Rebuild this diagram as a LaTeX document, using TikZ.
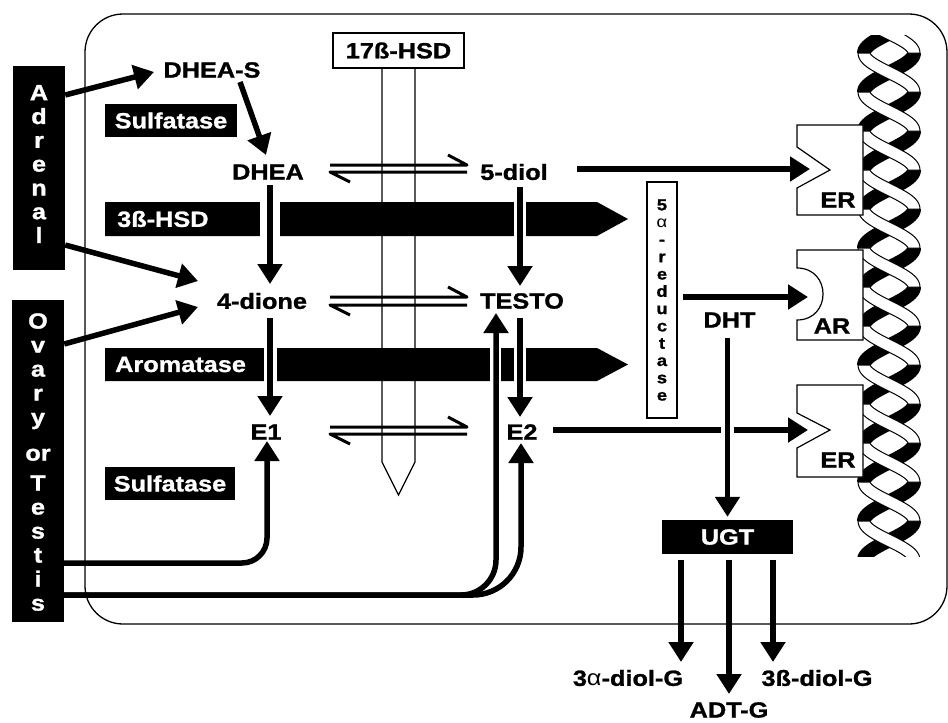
\documentclass[tikz,border=0pt]{standalone}
\usepackage{fontspec}
\setmainfont{Liberation Sans}[FakeStretch=1.15, BoldFeatures={FakeBold=1.2}]
\usetikzlibrary{arrows.meta}
\begin{document}
\begin{tikzpicture}[x=1pt,y=-1pt,
  lbl/.style={font=\fontsize{22}{24}\selectfont\bfseries, inner sep=0pt},
  blk/.style={fill=black, text=white, font=\fontsize{22}{24}\selectfont\bfseries, inner sep=0pt},
  arr/.style={line width=5.5pt, -{Triangle[length=20pt,width=24pt]}},
  harp/.style={line width=3pt, line join=round},
  gap/.style={draw=white},
  outl/.style={line width=1.2pt},
  declare function={nrm(\u)=sqrt(1+(2.04*sin(\u))^2);}]
\fill[white] (0,0) rectangle (948,723);
\useasboundingbox (0,0) rectangle (948,723);
% cell
\draw[line width=1.3pt, rounded corners=38pt] (85,14) rectangle (947,624);
% DNA helix
\begin{scope}
\clip (840,35) rectangle (930,556);
\foreach \ys in {-25,14,...,521}{
  \fill[black] plot[domain=0:180,samples=30,variable=\u] ({889+25*cos(\u)+7/nrm(\u)},{\ys+39*\u/180+7*2.04*sin(\u)/nrm(\u)})
    -- plot[domain=180:0,samples=30,variable=\u] ({889+25*cos(\u)-7/nrm(\u)},{\ys+39*\u/180-7*2.04*sin(\u)/nrm(\u)}) -- cycle;
}
\foreach \ys in {-25,14,...,521}{
  \filldraw[fill=white, draw=black, line width=1pt] plot[domain=0:180,samples=30,variable=\u] ({889-25*cos(\u)+6/nrm(\u)},{\ys+39*\u/180-6*2.04*sin(\u)/nrm(\u)})
    -- plot[domain=180:0,samples=30,variable=\u] ({889-25*cos(\u)-6/nrm(\u)},{\ys+39*\u/180+6*2.04*sin(\u)/nrm(\u)}) -- cycle;
}
\end{scope}
% receptors
\filldraw[fill=white, outl] (797,125) -- (863,125) -- (863,215) -- (797,215) -- (797,188) -- (830,170) -- (797,147) -- cycle;
\filldraw[fill=white, outl] (797,250) -- (863,250) -- (863,340) -- (797,340) -- (797,320) .. controls (831.7,320) and (831.7,268) .. (797,268) -- cycle;
\filldraw[fill=white, outl] (797,385) -- (863,385) -- (863,477) -- (797,477) -- (797,448) -- (830,430) -- (797,413) -- cycle;
\node[lbl] (er1) at (838,200) {ER};
\node[lbl] (ar) at (832,326) {AR};
\node[lbl] (er2) at (838,460) {ER};
\coordinate (er1in) at (810,169);
\coordinate (arin) at (808,297);
\coordinate (er2in) at (808,430);
% 17beta-HSD
\filldraw[fill=white, outl] (382,60) -- (382,462) -- (398.5,495) -- (415,462) -- (415,60) -- cycle;
\node[lbl, draw, fill=white, outl, minimum width=131pt, minimum height=35pt] (hsd17) at (398.5,50.5) {17ß-HSD};
% bars
\fill (105,202) -- (597,202) -- (628,219) -- (597,236) -- (105,236) -- cycle;
\node[blk, anchor=west] (hsd3) at (117,219) {3ß-HSD};
\fill (105,348) -- (597,348) -- (628,364.5) -- (597,381) -- (105,381) -- cycle;
\node[blk, anchor=west] (arom) at (115,364.5) {Aromatase};
\draw[gap, line width=20pt] (270,199) -- (270,239);
\draw[gap, line width=12pt] (520,199) -- (520,239);
\draw[gap, line width=13pt] (270,345) -- (270,384);
\draw[gap, line width=11pt] (495,345) -- (495,384);
\draw[gap, line width=12pt] (520,345) -- (520,384);
% black boxes
\node[blk, minimum width=132pt, minimum height=33pt] (sulf1) at (171,120.5) {Sulfatase};
\node[blk, minimum width=130pt, minimum height=33pt] (sulf2) at (170,483.5) {Sulfatase};
\node[blk, minimum width=131pt, minimum height=34pt] (ugt) at (727.5,537) {UGT};
\node[blk, minimum width=52pt, minimum height=204pt] (adrenal) at (39,168) {};
\node[blk, align=center, font=\fontsize{22}{23.8}\selectfont\bfseries] (adrtxt) at (39,164) {A\\d\\r\\e\\n\\a\\l};
\node[blk, minimum width=52pt, minimum height=322pt] (ovary) at (38,461) {};
\node[blk, align=center, font=\fontsize{22}{24}\selectfont\bfseries] (ovtxt) at (38,462) {O\\v\\a\\r\\y\\[12pt]or\\[6pt]T\\e\\s\\t\\i\\s};
\node[draw, outl, fill=white, minimum width=30pt, minimum height=236pt, inner sep=0pt, align=center, font=\fontsize{16}{17.3}\selectfont\bfseries] (red) at (662,300) {5\\{\mdseries α}\\-\\r\\e\\d\\u\\c\\t\\a\\s\\e};
% metabolites
\node[lbl] (dheas) at (212,70) {DHEA-S};
\node[lbl] (dhea) at (268,172) {DHEA};
\node[lbl] (diol) at (514,172) {5-diol};
\node[lbl] (dione) at (262,301) {4-dione};
\node[lbl] (testo) at (522,301) {TESTO};
\node[lbl] (e1) at (266,432) {E1};
\node[lbl] (e2) at (522,432) {E2};
\node[lbl] (dht) at (729.5,320) {DHT};
\node[lbl] (g3a) at (628,678) {3{\mdseries α}-diol-G};
\node[lbl] (g3b) at (817,678) {3ß-diol-G};
\node[lbl] (adtg) at (729,710) {ADT-G};
% arrows
\draw[arr] ([yshift=73pt]adrenal.east) -- ([xshift=-58pt,yshift=-2pt]dheas.center);
\draw[arr] ([yshift=-77pt]adrenal.east) -- ([xshift=-64pt,yshift=20pt]dione.center);
\draw[arr] ([yshift=117pt]ovary.east) -- ([xshift=-64pt,yshift=-6pt]dione.center);
\draw[arr] ([xshift=28pt,yshift=-12pt]dheas.center) -- ([xshift=-2pt,yshift=17pt]dhea.center);
\draw[arr] ([xshift=2pt,yshift=-13pt]dhea.center) -- ([xshift=8pt,yshift=17pt]dione.center);
\draw[arr] ([xshift=8pt,yshift=-17pt]dione.center) -- ([xshift=4pt,yshift=16pt]e1.center);
\draw[arr] ([xshift=6pt,yshift=-15pt]diol.center) -- ([xshift=-2pt,yshift=15pt]testo.center);
\draw[arr] ([xshift=-2pt,yshift=-17pt]testo.center) -- ([xshift=-2pt,yshift=15pt]e2.center);
\draw[arr] ([xshift=63pt,yshift=3pt]diol.center) -- (er1in);
\draw[arr] ([xshift=31pt,yshift=2pt]e2.center) -- (er2in);
\draw[arr] ([xshift=-46.5pt,yshift=23pt]dht.center) -- (arin);
\draw[gap, line width=13pt] (727.5,423) -- (727.5,437);
\draw[arr] ([xshift=-2pt,yshift=-18pt]dht.center) -- ([yshift=3pt]ugt.north);
\draw[arr] ([xshift=-46.5pt,yshift=-6pt]ugt.south) -- ([xshift=53pt,yshift=16pt]g3a.center);
\draw[arr] ([xshift=1.5pt,yshift=-6pt]ugt.south) -- ([yshift=16pt]adtg.center);
\draw[arr] ([xshift=45.5pt,yshift=-6pt]ugt.south) -- ([xshift=-44pt,yshift=16pt]g3b.center);
\draw[arr, rounded corners=25pt] ([yshift=-102pt]ovary.east) -| ([xshift=1pt,yshift=-9pt]e1.center);
\draw[arr, rounded corners=35pt] ([yshift=-134pt]ovary.east) -| ([xshift=-26pt,yshift=-12pt]testo.center);
\draw[arr, rounded corners=48pt] ([yshift=-134pt]ovary.east) -| ([xshift=-1pt,yshift=-11pt]e2.center);
% equilibria
\draw[harp] ([xshift=62pt,yshift=7pt]dhea.center) -- ([xshift=-47pt,yshift=7pt]diol.center) -- ++(-19,-10);
\draw[harp] ([xshift=-47pt]diol.center) -- ([xshift=62pt]dhea.center) -- ++(20,10);
\draw[harp] ([xshift=68pt,yshift=4pt]dione.center) -- ([xshift=-55pt,yshift=4pt]testo.center) -- ++(-19,-10);
\draw[harp] ([xshift=-55pt,yshift=-4pt]testo.center) -- ([xshift=68pt,yshift=-4pt]dione.center) -- ++(20,10);
\draw[harp] ([xshift=64pt,yshift=5pt]e1.center) -- ([xshift=-55pt,yshift=5pt]e2.center) -- ++(-19,-10);
\draw[harp] ([xshift=-55pt,yshift=-2pt]e2.center) -- ([xshift=64pt,yshift=-2pt]e1.center) -- ++(20,10);
\end{tikzpicture}
\end{document}
